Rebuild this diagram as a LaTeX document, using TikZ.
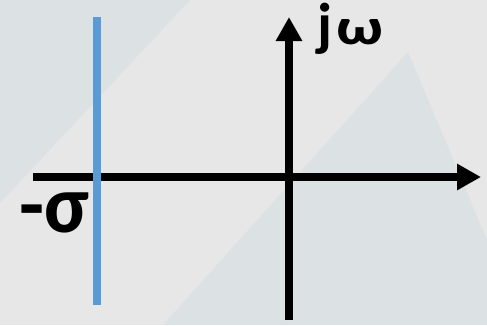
\documentclass[tikz,border=0pt]{standalone}
\usepackage{fontspec}
\usepackage{graphicx}
\setmainfont{Carlito}
\usetikzlibrary{arrows.meta}
\definecolor{bgbase}{RGB}{231,231,231}
\definecolor{bgshade}{RGB}{220,225,228}
\definecolor{poleline}{RGB}{91,155,213}
\tikzset{
  axis/.style={line width=8pt, draw=black, -{Triangle[length=24pt,width=25pt]}},
  lbl/.style={inner sep=0pt, font=\fontsize{59}{59}\selectfont\bfseries},
}
\begin{document}
\begin{tikzpicture}[x=1pt,y=-1pt]
\fill[bgbase] (0,0) rectangle (487,325);
\useasboundingbox (0,0) rectangle (487,325);
\fill[bgshade] (0,0) -- (190,0) -- (0,203) -- cycle;
\fill[bgshade] (408,52) -- (487,240) -- (487,325) -- (163,325) -- cycle;
\coordinate (hl) at (33,177);
\coordinate (hr) at (481,177);
\coordinate (vb) at (289,320);
\coordinate (vt) at (289,17);
\coordinate (pt) at (97,17);
\coordinate (pb) at (97,305);
\draw[axis] (hl) -- (hr);
\draw[axis] (vb) -- (vt);
\draw[line width=8pt, draw=poleline] (pt) -- (pb);
\node[lbl, anchor=base west] (jw) at (317,44) {j\kern4pt\resizebox{47pt}{25pt}{ω}};
\node[lbl, anchor=base west, font=\fontsize{82}{82}\selectfont\bfseries] (sig) at (19,232) {-σ};
\end{tikzpicture}
\end{document}
